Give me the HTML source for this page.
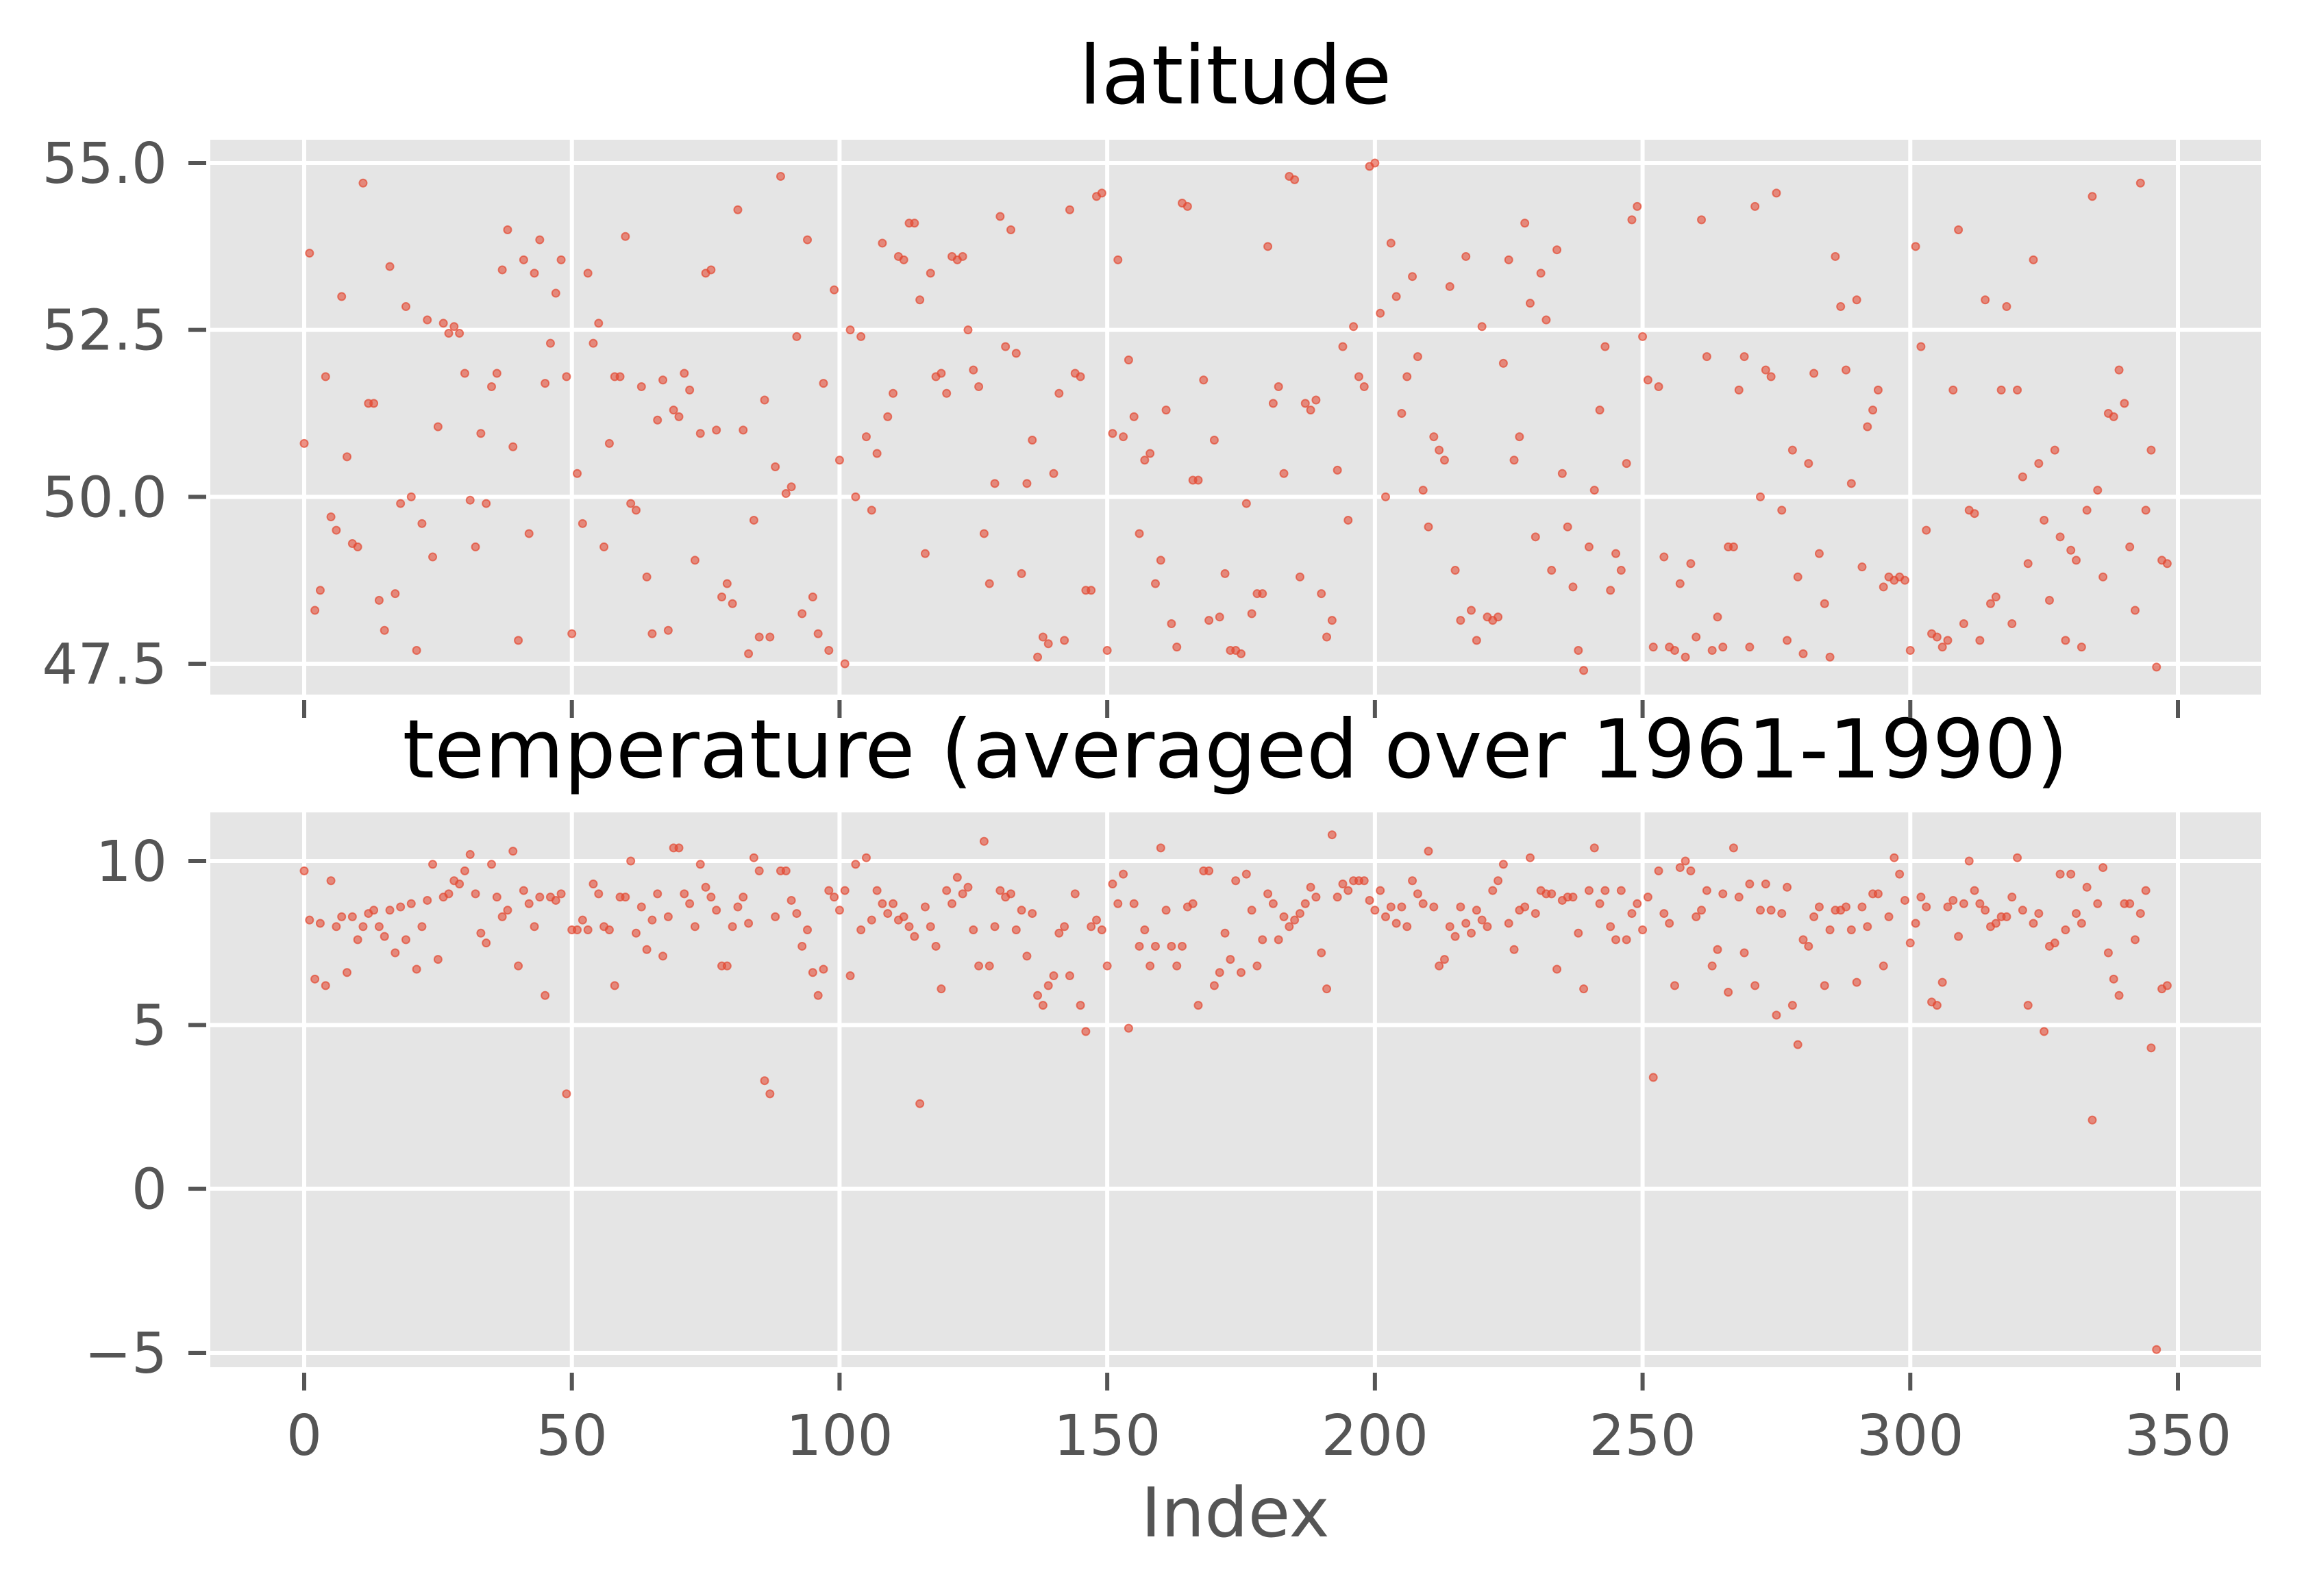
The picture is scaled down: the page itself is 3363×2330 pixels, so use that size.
<!DOCTYPE html>
<html><head><meta charset="utf-8"><title>latitude and temperature</title>
<style>
html,body{margin:0;padding:0;background:#fff;}
svg{display:block;font-family:"DejaVu Sans","Liberation Sans",sans-serif;}
</style></head>
<body>
<svg id="chart" width="3363" height="2330" viewBox="0 0 3363 2330" xmlns="http://www.w3.org/2000/svg">
<rect x="0" y="0" width="3363" height="2330" fill="#ffffff"/>
<text x="1803" y="151" font-size="119" text-anchor="middle" fill="#000">latitude</text>
<text x="1803" y="1135" font-size="119" text-anchor="middle" fill="#000">temperature (averaged over 1961-1990)</text>
<text x="1803" y="2243" font-size="100" text-anchor="middle" fill="#555555">Index</text>
<g id="top"></g>
<g id="bot"></g>
</svg>
<script>
const latitude = [50.8,53.65,48.3,48.6,51.8,49.7,49.5,53.0,50.6,49.3,
49.25,54.7,51.4,51.4,48.45,48.0,53.45,48.55,49.9,52.85,
50.0,47.7,49.6,52.65,49.1,51.05,52.6,52.45,52.55,52.45,
51.85,49.95,49.25,50.95,49.9,51.65,51.85,53.4,54.0,50.75,
47.85,53.55,49.45,53.35,53.85,51.7,52.3,53.05,53.55,51.8,
47.95,50.35,49.6,53.35,52.3,52.6,49.25,50.8,51.8,51.8,
53.9,49.9,49.8,51.65,48.8,47.95,51.15,51.75,48.0,51.3,
51.2,51.85,51.6,49.05,50.95,53.35,53.4,51.0,48.5,48.7,
48.4,54.3,51.0,47.65,49.65,47.9,51.45,47.9,50.45,54.8,
50.05,50.15,52.4,48.25,53.85,48.5,47.95,51.7,47.7,53.1,
50.55,47.5,52.5,50.0,52.4,50.9,49.8,50.65,53.8,51.2,
51.55,53.6,53.55,54.1,54.1,52.95,49.15,53.35,51.8,51.85,
51.55,53.6,53.55,53.6,52.5,51.9,51.65,49.45,48.7,50.2,
54.2,52.25,54.0,52.15,48.85,50.2,50.85,47.6,47.9,47.8,
50.35,51.55,47.85,54.3,51.85,51.8,48.6,48.6,54.5,54.55,
47.7,50.95,53.55,50.9,52.05,51.2,49.45,50.55,50.65,48.7,
49.05,51.3,48.1,47.75,54.4,54.35,50.25,50.25,51.75,48.15,
50.85,48.2,48.85,47.7,47.7,47.65,49.9,48.25,48.55,48.55,
53.75,51.4,51.65,50.35,54.8,54.75,48.8,51.4,51.3,51.45,
48.55,47.9,48.15,50.4,52.25,49.65,52.55,51.8,51.65,54.95,
55.0,52.75,50.0,53.8,53.0,51.25,51.8,53.3,52.1,50.1,
49.55,50.9,50.7,50.55,53.15,48.9,48.15,53.6,48.3,47.85,
52.55,48.2,48.15,48.2,52.0,53.55,50.55,50.9,54.1,52.9,
49.4,53.35,52.65,48.9,53.7,50.35,49.55,48.65,47.7,47.4,
49.25,50.1,51.3,52.25,48.6,49.15,48.9,50.5,54.15,54.35,
52.4,51.75,47.75,51.65,49.1,47.75,47.7,48.7,47.6,49.0,
47.9,54.15,52.1,47.7,48.2,47.75,49.25,49.25,51.6,52.1,
47.75,54.35,50.0,51.9,51.8,54.55,49.8,47.85,50.7,48.8,
47.65,50.5,51.85,49.15,48.4,47.6,53.6,52.85,51.9,50.2,
52.95,48.95,51.05,51.3,51.6,48.65,48.8,48.75,48.8,48.75,
47.7,53.75,52.25,49.5,47.95,47.9,47.75,47.85,51.6,54.0,
48.1,49.8,49.75,47.85,52.95,48.4,48.5,51.6,52.85,48.1,
51.6,50.3,49.0,53.55,50.5,49.65,48.45,50.7,49.4,47.85,
49.2,49.05,47.75,49.8,54.5,50.1,48.8,51.25,51.2,51.9,
51.4,49.25,48.3,54.7,49.8,50.7,47.45,49.05,49.0];
const temperature = [9.7,8.2,6.4,8.1,6.2,9.4,8.0,8.3,6.6,8.3,
7.6,8.0,8.4,8.5,8.0,7.7,8.5,7.2,8.6,7.6,
8.7,6.7,8.0,8.8,9.9,7.0,8.9,9.0,9.4,9.3,
9.7,10.2,9.0,7.8,7.5,9.9,8.9,8.3,8.5,10.3,
6.8,9.1,8.7,8.0,8.9,5.9,8.9,8.8,9.0,2.9,
7.9,7.9,8.2,7.9,9.3,9.0,8.0,7.9,6.2,8.9,
8.9,10.0,7.8,8.6,7.3,8.2,9.0,7.1,8.3,10.4,
10.4,9.0,8.7,8.0,9.9,9.2,8.9,8.5,6.8,6.8,
8.0,8.6,8.9,8.1,10.1,9.7,3.3,2.9,8.3,9.7,
9.7,8.8,8.4,7.4,7.9,6.6,5.9,6.7,9.1,8.9,
8.5,9.1,6.5,9.9,7.9,10.1,8.2,9.1,8.7,8.4,
8.7,8.2,8.3,8.0,7.7,2.6,8.6,8.0,7.4,6.1,
9.1,8.7,9.5,9.0,9.2,7.9,6.8,10.6,6.8,8.0,
9.1,8.9,9.0,7.9,8.5,7.1,8.4,5.9,5.6,6.2,
6.5,7.8,8.0,6.5,9.0,5.6,4.8,8.0,8.2,7.9,
6.8,9.3,8.7,9.6,4.9,8.7,7.4,7.9,6.8,7.4,
10.4,8.5,7.4,6.8,7.4,8.6,8.7,5.6,9.7,9.7,
6.2,6.6,7.8,7.0,9.4,6.6,9.6,8.5,6.8,7.6,
9.0,8.7,7.6,8.3,8.0,8.2,8.4,8.7,9.2,8.9,
7.2,6.1,10.8,8.9,9.3,9.1,9.4,9.4,9.4,8.8,
8.5,9.1,8.3,8.6,8.1,8.6,8.0,9.4,9.0,8.7,
10.3,8.6,6.8,7.0,8.0,7.7,8.6,8.1,7.8,8.5,
8.2,8.0,9.1,9.4,9.9,8.1,7.3,8.5,8.6,10.1,
8.4,9.1,9.0,9.0,6.7,8.8,8.9,8.9,7.8,6.1,
9.1,10.4,8.7,9.1,8.0,7.6,9.1,7.6,8.4,8.7,
7.9,8.9,3.4,9.7,8.4,8.1,6.2,9.8,10.0,9.7,
8.3,8.5,9.1,6.8,7.3,9.0,6.0,10.4,8.9,7.2,
9.3,6.2,8.5,9.3,8.5,5.3,8.4,9.2,5.6,4.4,
7.6,7.4,8.3,8.6,6.2,7.9,8.5,8.5,8.6,7.9,
6.3,8.6,8.0,9.0,9.0,6.8,8.3,10.1,9.6,8.8,
7.5,8.1,8.9,8.6,5.7,5.6,6.3,8.6,8.8,7.7,
8.7,10.0,9.1,8.7,8.5,8.0,8.1,8.3,8.3,8.9,
10.1,8.5,5.6,8.1,8.4,4.8,7.4,7.5,9.6,7.9,
9.6,8.4,8.1,9.2,2.1,8.7,9.8,7.2,6.4,5.9,
8.7,8.7,7.6,8.4,9.1,4.3,-4.9,6.1,6.2];
const xTicks = [0,50,100,150,200,250,300,350];
const latTicks = [47.5,50.0,52.5,55.0];
const latTickLabels = ["47.5","50.0","52.5","55.0"];
const tempTicks = [-5,0,5,10];
const tempTickLabels = ["\u22125","0","5","10"];

const NS = "http://www.w3.org/2000/svg";
const AX_L = 307, AX_R = 3300;
const xScale = v => 444 + (v - 0) * (3179 - 444) / 350;
const latScale = v => 238 + (55 - v) * (969 - 238) / 7.5;
const tempScale = v => 1257 + (10 - v) * (1975 - 1257) / 15;

function mk(tag, attrs, parent) {
  const e = document.createElementNS(NS, tag);
  for (const k in attrs) e.setAttribute(k, attrs[k]);
  parent.appendChild(e);
  return e;
}

function panel(g, top, bottom, yTicks, yLabels, yScale, values, showXLabels, prefix) {
  const bg = mk("rect", {x: AX_L, y: top, width: AX_R - AX_L, height: bottom - top, fill: "#E5E5E5"}, g);
  
  
  yTicks.forEach((t, i) => {
    const y = yScale(t);
    const gl = mk("line", {x1: AX_L, x2: AX_R, y1: y, y2: y, stroke: "#fff", "stroke-width": 6}, g);
    
    
    const tk = mk("line", {x1: 275, x2: 301, y1: y, y2: y, stroke: "#555555", "stroke-width": 6}, g);
    
    
    const tl = mk("text", {x: 244, y: y + 29, "font-size": 82, fill: "#555555", "text-anchor": "end"}, g);
    tl.textContent = yLabels[i];
    
    
  });
  xTicks.forEach(t => {
    const x = xScale(t);
    const gl = mk("line", {x1: x, x2: x, y1: top, y2: bottom, stroke: "#fff", "stroke-width": 6}, g);
    
    
    const tk = mk("line", {x1: x, x2: x, y1: bottom + 8, y2: bottom + 34, stroke: "#555555", "stroke-width": 6}, g);
    
    
    if (showXLabels) {
      const tl = mk("text", {x: x, y: bottom + 128, "font-size": 82, fill: "#555555", "text-anchor": "middle"}, g);
      tl.textContent = String(t);
      
      
    }
  });
  values.forEach((v, i) => {
    const c = mk("circle", {cx: xScale(i), cy: yScale(v), r: 5.5, fill: "#E24A33", "fill-opacity": 0.6, stroke: "#E24A33", "stroke-opacity": 0.7, "stroke-width": 2}, g);
    
    
  });
}

panel(document.getElementById("top"), 204, 1014, latTicks, latTickLabels, latScale, latitude, false, "latitude");
panel(document.getElementById("bot"), 1186, 1996, tempTicks, tempTickLabels, tempScale, temperature, true, "temperature");
</script>
</body></html>
